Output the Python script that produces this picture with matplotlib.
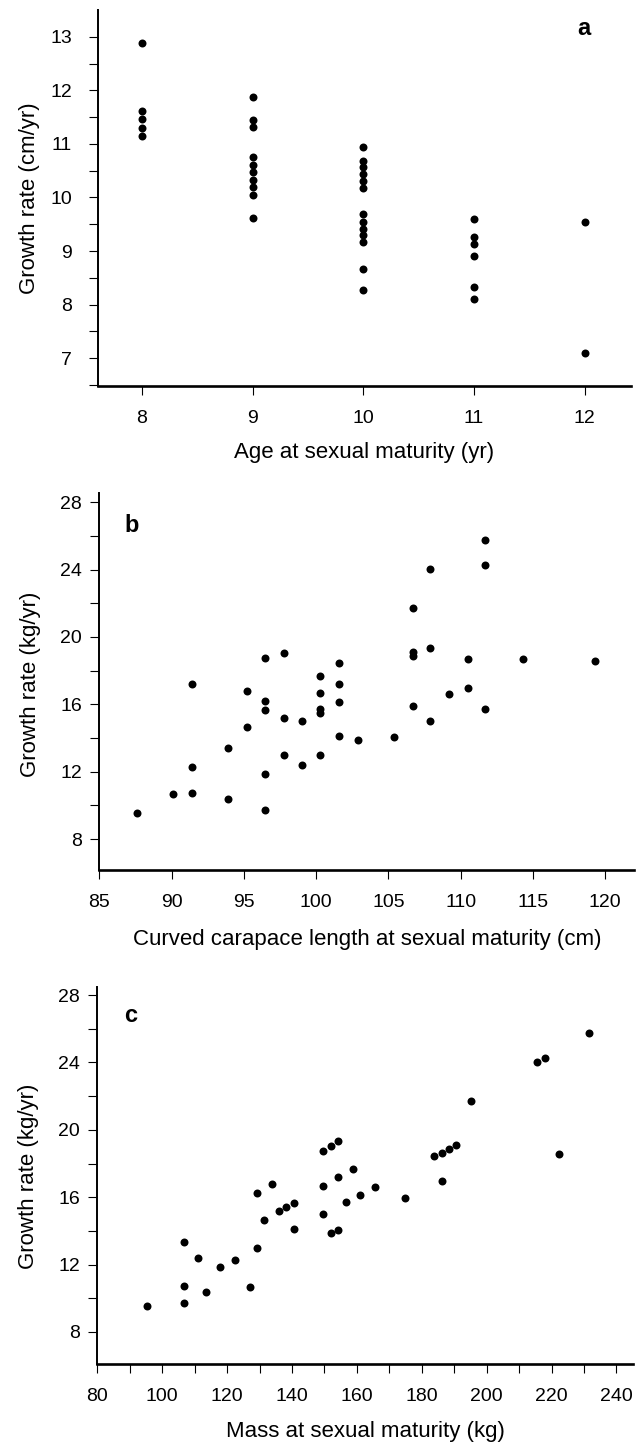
import numpy as np
from matplotlib import pyplot as plt

plt.rcParams['font.family'] = ['Liberation Sans', 'DejaVu Sans']

# panel a: age at maturity vs growth rate (cm/yr)
age = [8, 8, 8, 8, 8,
       9, 9, 9, 9, 9, 9, 9, 9, 9, 9,
       10, 10, 10, 10, 10, 10, 10, 10, 10, 10, 10, 10, 10,
       11, 11, 11, 11, 11, 11,
       12, 12]
growth_cm = [12.89, 11.61, 11.46, 11.30, 11.14,
             11.87, 11.45, 11.31, 10.75, 10.61, 10.47, 10.33, 10.19, 10.05, 9.61,
             10.95, 10.69, 10.57, 10.44, 10.31, 10.18, 9.69, 9.55, 9.42, 9.29, 9.17, 8.66, 8.27,
             9.60, 9.26, 9.14, 8.91, 8.33, 8.11,
             9.55, 7.10]

# panel b: curved carapace length vs growth rate (kg/yr)
ccl = [87.6, 90.1, 91.4, 91.4, 91.4, 93.9, 93.9, 95.2, 95.2,
       96.5, 96.5, 96.5, 96.5, 96.5, 97.8, 97.8, 97.8, 99.0, 99.0,
       100.3, 100.3, 100.3, 100.3, 100.3, 101.6, 101.6, 101.6, 101.6,
       102.9, 105.4, 106.7, 106.7, 106.7, 106.7, 107.9, 107.9, 107.9,
       109.2, 110.5, 110.5, 111.7, 111.7, 111.7, 114.3, 119.3]
growth_b = [9.56, 10.65, 17.19, 12.30, 10.71, 13.39, 10.36, 16.77, 14.67,
            18.77, 16.22, 15.66, 11.84, 9.74, 19.05, 15.17, 12.97, 15.03, 12.40,
            17.70, 16.69, 15.70, 15.47, 12.99, 18.44, 17.21, 16.16, 14.12,
            13.86, 14.08, 21.74, 19.13, 18.89, 15.92, 24.02, 19.33, 15.03,
            16.61, 18.67, 16.97, 25.78, 24.26, 15.70, 18.67, 18.59]

# panel c: mass vs growth rate (kg/yr)
mass = [95.2, 106.6, 106.6, 106.6, 111.1, 113.5, 117.9, 122.5, 127.0,
        129.2, 129.2, 131.5, 133.8, 136.1, 138.3, 140.6, 140.6,
        149.7, 152.0, 154.2, 149.7, 149.7, 152.0, 154.2, 154.2,
        158.9, 156.6, 161.0, 165.7, 174.7, 183.8, 186.1, 188.4, 190.6,
        186.1, 195.1, 215.6, 217.9, 222.4, 231.5]
growth_c = [9.56, 13.36, 10.71, 9.74, 12.39, 10.35, 11.86, 12.29, 10.65,
            16.23, 12.99, 14.67, 16.78, 15.18, 15.44, 15.68, 14.11,
            18.76, 19.06, 19.34, 16.68, 15.02, 13.86, 14.07, 17.18,
            17.69, 15.70, 16.15, 16.61, 15.93, 18.43, 18.64, 18.88, 19.12,
            16.96, 21.73, 24.00, 24.24, 18.58, 25.76]

W, H = 638, 1443
fig = plt.figure(figsize=(W / 100, H / 100), dpi=100)


def make_axes(left, top, right, bottom):
    # pixel box -> figure fractions
    return fig.add_axes([left / W, 1 - bottom / H, (right - left) / W, (bottom - top) / H])


def style(ax, ypad):
    for s in ['top', 'right']:
        ax.spines[s].set_visible(False)
    ax.spines['left'].set_linewidth(1.4)
    ax.spines['bottom'].set_linewidth(1.9)
    ax.tick_params(which='both', direction='out', length=6.5, width=0.8, labelsize=14)
    ax.tick_params(axis='y', pad=ypad)
    ax.tick_params(axis='x', pad=11)


ax1 = make_axes(97.7, 10, 631, 386)
ax2 = make_axes(99.3, 493.3, 634, 870)
ax3 = make_axes(97.3, 986.7, 633, 1364)

ax1.scatter(age, growth_cm, s=33, color='black', linewidths=0)
ax1.set_xlim(7.6, 12.42)
ax1.set_ylim(6.48, 13.5)
ax1.set_xticks([8, 9, 10, 11, 12])
ax1.set_yticks(np.arange(7, 14, 1))
ax1.set_yticks(np.arange(6.5, 13.5, 0.5), minor=True)
style(ax1, 12)

ax2.scatter(ccl, growth_b, s=33, color='black', linewidths=0)
ax2.set_xlim(85, 122)
ax2.set_ylim(6.16, 28.53)
ax2.set_xticks(np.arange(85, 121, 5))
ax2.set_yticks(np.arange(8, 29, 4))
ax2.set_yticks(np.arange(10, 28, 4), minor=True)
style(ax2, 6)

ax3.scatter(mass, growth_c, s=33, color='black', linewidths=0)
ax3.set_xlim(80, 245.1)
ax3.set_ylim(6.1, 28.5)
ax3.set_xticks(np.arange(80, 241, 20))
ax3.set_xticks(np.arange(90, 241, 20), minor=True)
ax3.set_yticks(np.arange(8, 29, 4))
ax3.set_yticks(np.arange(10, 28, 4), minor=True)
style(ax3, 6)

# axis titles
fig.text(364 / W, 1 - 458 / H, 'Age at sexual maturity (yr)', ha='center', va='baseline', fontsize=16)
fig.text(367 / W, 1 - 945 / H, 'Curved carapace length at sexual maturity (cm)', ha='center', va='baseline', fontsize=16)
fig.text(365 / W, 1 - 1437 / H, 'Mass at sexual maturity (kg)', ha='center', va='baseline', fontsize=16)

fig.text(30 / W, 1 - 198 / H, 'Growth rate (cm/yr)', rotation=90, ha='center', va='center', fontsize=16)
fig.text(31 / W, 1 - 684 / H, 'Growth rate (kg/yr)', rotation=90, ha='center', va='center', fontsize=16)
fig.text(28.5 / W, 1 - 1176 / H, 'Growth rate (kg/yr)', rotation=90, ha='center', va='center', fontsize=16)

# panel letters
ax1.text(0.899, 0.9335, 'a', transform=ax1.transAxes, fontsize=17, fontweight='bold', va='baseline')
ax2.text(0.048, 0.898, 'b', transform=ax2.transAxes, fontsize=17, fontweight='bold', va='baseline')
ax3.text(0.0504, 0.906, 'c', transform=ax3.transAxes, fontsize=17, fontweight='bold', va='baseline')

plt.savefig('out.png', dpi=100)
